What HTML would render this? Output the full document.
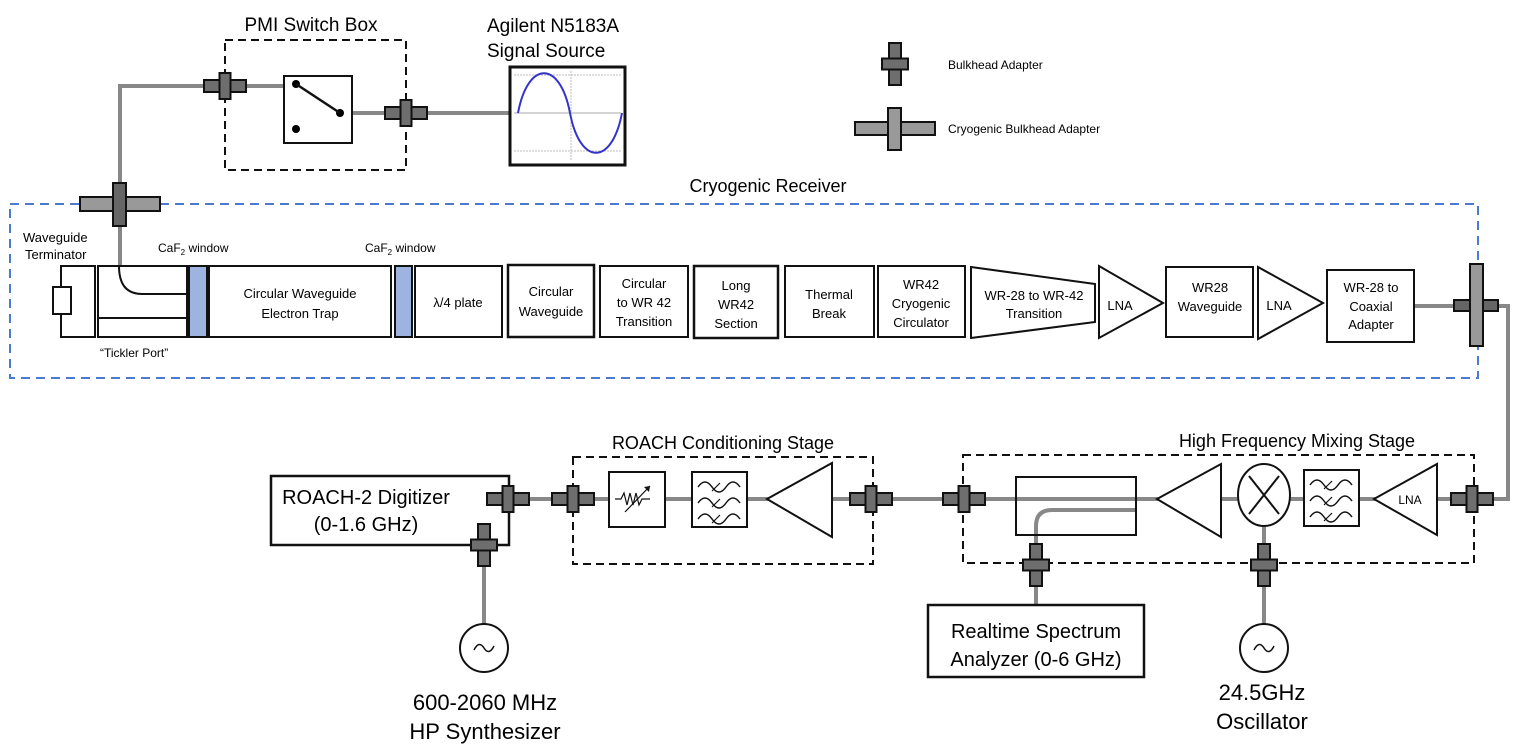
<!DOCTYPE html>
<html><head><meta charset="utf-8"><style>
html,body{margin:0;padding:0;background:#fff;}
svg{display:block;font-family:"Liberation Sans",sans-serif;}
</style></head><body>
<svg width="1525" height="751" viewBox="0 0 1525 751" xmlns="http://www.w3.org/2000/svg">
<defs>
<g id="bh"><rect x="-21" y="-6" width="42" height="12" fill="#6e6e6e" stroke="#111" stroke-width="2"/><rect x="-5.5" y="-13" width="11" height="26" fill="#6e6e6e" stroke="#111" stroke-width="2"/></g>
<g id="bhv"><rect x="-6" y="-21" width="12" height="42" fill="#6e6e6e" stroke="#111" stroke-width="2"/><rect x="-13" y="-5.5" width="26" height="11" fill="#6e6e6e" stroke="#111" stroke-width="2"/></g>
<g id="filt"><path d="M6,12 q7,-10 14,0 t14,0 t14,0 M6,28 q7,-10 14,0 t14,0 t14,0 M6,44 q7,-10 14,0 t14,0 t14,0" fill="none" stroke="#111" stroke-width="1.5"/><path d="M20,16 l8,-8 M20,32 l8,-8 M20,48 l8,-8" stroke="#111" stroke-width="1.2"/></g>
</defs>

<!-- gray lines -->
<g stroke="#888" stroke-width="4" fill="none">
<path d="M120,266 V86 H284"/>
<path d="M352,113 H510"/>
<path d="M1414,306 H1508 V499 H509"/>
<path d="M484,530 V624"/>
<path d="M1136,510 H1052 Q1036,510 1036,526 V605"/>
<path d="M1264,527 V624"/>
</g>

<!-- top: PMI switch box -->
<text x="311" y="31" font-size="19" text-anchor="middle">PMI Switch Box</text>
<rect x="225" y="40" width="181" height="130" fill="none" stroke="#111" stroke-width="2" stroke-dasharray="8,5"/>
<rect x="284" y="76" width="68" height="67" fill="#fff" stroke="#111" stroke-width="2"/>
<circle cx="296" cy="84" r="4"/><circle cx="296" cy="129" r="4"/><circle cx="340" cy="113" r="4"/>
<line x1="296" y1="84" x2="340" y2="113" stroke="#111" stroke-width="2.5"/>
<use href="#bh" x="225" y="86"/>
<use href="#bh" x="406" y="113"/>

<!-- signal source -->
<text x="487" y="32" font-size="19">Agilent N5183A</text>
<text x="487" y="57" font-size="19">Signal Source</text>
<rect x="510" y="67" width="115" height="98" fill="#fff" stroke="#111" stroke-width="3"/>
<g stroke="#bbb" stroke-width="1" stroke-dasharray="2,1"><line x1="514" y1="75" x2="621" y2="75"/><line x1="514" y1="151" x2="621" y2="151"/><line x1="571" y1="71" x2="571" y2="161"/></g>
<line x1="514" y1="113" x2="621" y2="113" stroke="#aaa" stroke-width="1"/>
<path d="M518,113 C528,60 560,60 570,113 C580,166 612,166 622,113" fill="none" stroke="#3333cc" stroke-width="2"/>

<!-- legend -->
<g transform="translate(895,64) rotate(90)"><use href="#bh"/></g>
<text x="948" y="69" font-size="12">Bulkhead Adapter</text>
<rect x="855" y="122" width="80" height="13" fill="#999" stroke="#111" stroke-width="2"/>
<rect x="888" y="108" width="13" height="42" fill="#999" stroke="#111" stroke-width="2"/>
<text x="948" y="133" font-size="12">Cryogenic Bulkhead Adapter</text>

<!-- cryogenic receiver -->
<text x="768" y="192" font-size="18" text-anchor="middle">Cryogenic Receiver</text>
<rect x="10" y="204" width="1468" height="174" fill="none" stroke="#4a7bd0" stroke-width="2" stroke-dasharray="9,6"/>
<rect x="80" y="197" width="80" height="14" fill="#999" stroke="#111" stroke-width="2"/>
<rect x="113" y="183" width="13" height="43" fill="#666" stroke="#111" stroke-width="2"/>
<text x="23" y="242" font-size="13">Waveguide</text>
<text x="25" y="259" font-size="13">Terminator</text>
<text x="158" y="252" font-size="12">CaF<tspan font-size="8" dy="3">2</tspan><tspan dy="-3"> window</tspan></text>
<text x="365" y="252" font-size="12">CaF<tspan font-size="8" dy="3">2</tspan><tspan dy="-3"> window</tspan></text>
<text x="100" y="357" font-size="12">“Tickler Port”</text>

<g stroke="#111" stroke-width="2" fill="#fff">
<rect x="61" y="266" width="34" height="71"/>
<rect x="53" y="287" width="18" height="27"/>
<rect x="98" y="266" width="89" height="71"/>
<line x1="98" y1="318" x2="187" y2="318"/>
<path d="M119,266 Q119,294 142,294 H187" fill="none"/>
<rect x="189" y="266" width="18" height="71" fill="#9db3e0"/>
<rect x="209" y="266" width="182" height="71"/>
<rect x="395" y="266" width="17" height="71" fill="#9db3e0"/>
<rect x="415" y="266" width="87" height="71"/>
<rect x="508" y="265" width="86" height="72" stroke-width="2.5"/>
<rect x="600" y="266" width="88" height="71"/>
<rect x="694" y="266" width="84" height="72" stroke-width="2.5"/>
<rect x="785" y="266" width="89" height="71"/>
<rect x="878" y="266" width="87" height="71"/>
<path d="M971,267 L1095,284 L1095,322 L971,338 Z"/>
<path d="M1099,266 L1163,303 L1099,338 Z"/>
<rect x="1166" y="267" width="87" height="70"/>
<path d="M1258,267 L1323,303 L1258,339 Z"/>
<rect x="1327" y="270" width="87" height="72"/>
</g>
<g font-size="13" text-anchor="middle">
<text x="300" y="298">Circular Waveguide</text><text x="300" y="318">Electron Trap</text>
<text x="458" y="307">λ/4 plate</text>
<text x="551" y="296">Circular</text><text x="551" y="316">Waveguide</text>
<text x="644" y="288">Circular</text><text x="644" y="307">to WR 42</text><text x="644" y="326">Transition</text>
<text x="736" y="290">Long</text><text x="736" y="309">WR42</text><text x="736" y="328">Section</text>
<text x="829" y="299">Thermal</text><text x="829" y="318">Break</text>
<text x="921" y="289">WR42</text><text x="921" y="308">Cryogenic</text><text x="921" y="327">Circulator</text>
<text x="1034" y="300">WR-28 to WR-42</text><text x="1034" y="318">Transition</text>
<text x="1120" y="310">LNA</text>
<text x="1210" y="292">WR28</text><text x="1210" y="311">Waveguide</text>
<text x="1279" y="310">LNA</text>
<text x="1371" y="292">WR-28 to</text><text x="1371" y="311">Coaxial</text><text x="1371" y="329">Adapter</text>
</g>
<rect x="1454" y="300" width="44" height="11" fill="#666" stroke="#111" stroke-width="2"/>
<rect x="1470" y="264" width="13" height="82" fill="#999" stroke="#111" stroke-width="2"/>

<!-- ROACH conditioning stage -->
<text x="723" y="449" font-size="18" text-anchor="middle">ROACH Conditioning Stage</text>
<rect x="573" y="457" width="300" height="107" fill="none" stroke="#111" stroke-width="2" stroke-dasharray="8,5"/>
<rect x="609" y="472" width="56" height="55" fill="#fff" stroke="#111" stroke-width="2"/>
<path d="M615,499 h6 l3,-6 l3,12 l3,-12 l3,12 l3,-12 l3,12 l3,-6 h8" fill="none" stroke="#111" stroke-width="1.2"/>
<line x1="625" y1="512" x2="650" y2="486" stroke="#111" stroke-width="1.2"/><path d="M650,486 l-6,1 l5,5 Z" fill="#111"/>
<rect x="692" y="472" width="55" height="55" fill="#fff" stroke="#111" stroke-width="2"/>
<use href="#filt" x="692" y="475"/>
<path d="M767,499 L832,463 L832,537 Z" fill="#fff" stroke="#111" stroke-width="2"/>
<use href="#bh" x="573" y="499"/>
<use href="#bh" x="871" y="499"/>

<!-- HF mixing stage -->
<text x="1297" y="447" font-size="18" text-anchor="middle">High Frequency Mixing Stage</text>
<rect x="963" y="455" width="511" height="108" fill="none" stroke="#111" stroke-width="2" stroke-dasharray="8,5"/>
<rect x="1016" y="477" width="120" height="58" fill="none" stroke="#111" stroke-width="2"/>
<path d="M1157,499 L1221,464 L1221,537 Z" fill="#fff" stroke="#111" stroke-width="2"/>
<ellipse cx="1264" cy="495" rx="26" ry="31" fill="#fff" stroke="#111" stroke-width="2"/>
<path d="M1249,476 L1279,514 M1279,476 L1249,514" stroke="#111" stroke-width="2"/>
<rect x="1304" y="470" width="55" height="56" fill="#fff" stroke="#111" stroke-width="2"/>
<use href="#filt" x="1304" y="473"/>
<path d="M1374,499 L1437,464 L1437,535 Z" fill="#fff" stroke="#111" stroke-width="2"/>
<text x="1410" y="504" font-size="12" text-anchor="middle">LNA</text>
<use href="#bh" x="964" y="499"/>
<use href="#bh" x="1472" y="499"/>
<use href="#bhv" x="1036" y="565"/>
<use href="#bhv" x="1264" y="565"/>

<!-- ROACH-2 digitizer -->
<rect x="271" y="476" width="238" height="69" fill="#fff" stroke="#111" stroke-width="2.5"/>
<text x="366" y="504" font-size="20" text-anchor="middle">ROACH-2 Digitizer</text>
<text x="366" y="531" font-size="20" text-anchor="middle">(0-1.6 GHz)</text>
<use href="#bh" x="508" y="499"/>
<use href="#bhv" x="484" y="545"/>

<!-- synth -->
<circle cx="484" cy="648" r="24" fill="#fff" stroke="#111" stroke-width="2"/>
<path d="M474,650 q5,-10 10,-2 t10,-2" fill="none" stroke="#111" stroke-width="1.5"/>
<text x="485" y="710" font-size="22" text-anchor="middle">600-2060 MHz</text>
<text x="485" y="739" font-size="22" text-anchor="middle">HP Synthesizer</text>

<!-- spectrum analyzer -->
<rect x="928" y="605" width="216" height="72" fill="#fff" stroke="#111" stroke-width="2.5"/>
<text x="1036" y="638" font-size="20" text-anchor="middle">Realtime Spectrum</text>
<text x="1036" y="666" font-size="20" text-anchor="middle">Analyzer (0-6 GHz)</text>

<!-- oscillator -->
<circle cx="1264" cy="648" r="24" fill="#fff" stroke="#111" stroke-width="2"/>
<path d="M1254,650 q5,-10 10,-2 t10,-2" fill="none" stroke="#111" stroke-width="1.5"/>
<text x="1262" y="700" font-size="22" text-anchor="middle">24.5GHz</text>
<text x="1262" y="729" font-size="22" text-anchor="middle">Oscillator</text>
</svg>
</body></html>
